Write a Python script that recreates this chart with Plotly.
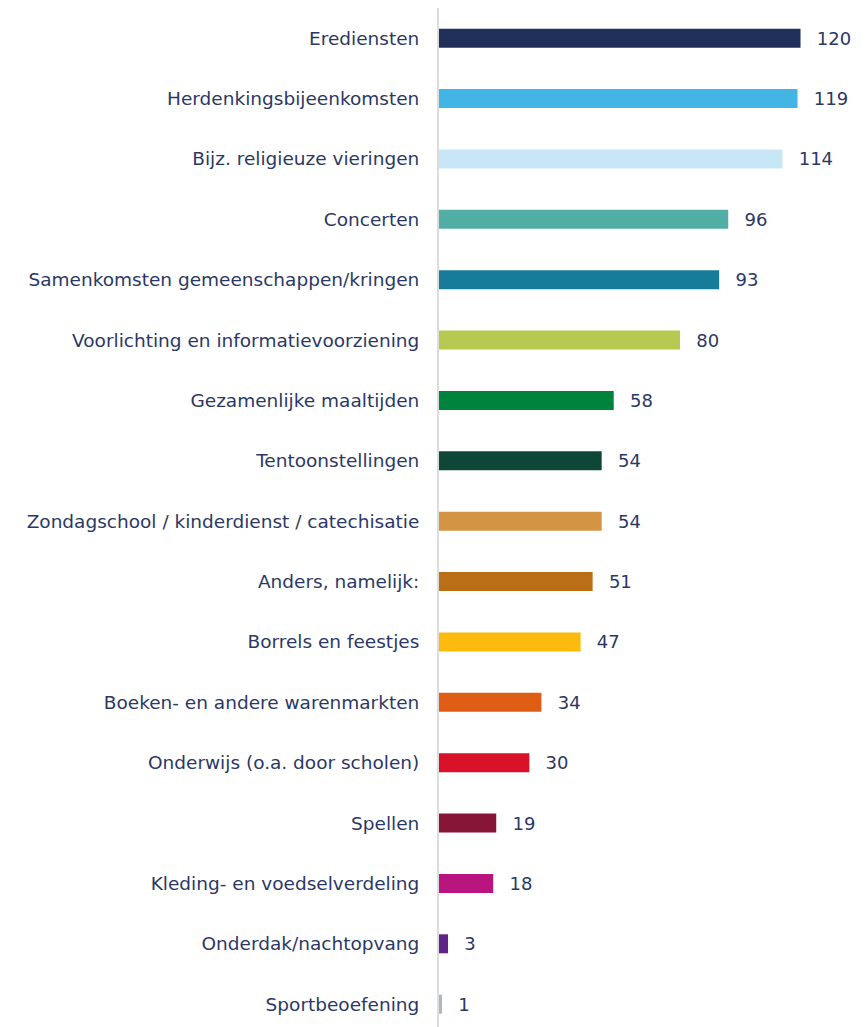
import plotly.graph_objects as go

categories = [
    "Erediensten",
    "Herdenkingsbijeenkomsten",
    "Bijz. religieuze vieringen",
    "Concerten",
    "Samenkomsten gemeenschappen/kringen",
    "Voorlichting en informatievoorziening",
    "Gezamenlijke maaltijden",
    "Tentoonstellingen",
    "Zondagschool / kinderdienst / catechisatie",
    "Anders, namelijk:",
    "Borrels en feestjes",
    "Boeken- en andere warenmarkten",
    "Onderwijs (o.a. door scholen)",
    "Spellen",
    "Kleding- en voedselverdeling",
    "Onderdak/nachtopvang",
    "Sportbeoefening",
]
values = [120, 119, 114, 96, 93, 80, 58, 54, 54, 51, 47, 34, 30, 19, 18, 3, 1]
colors = [
    "#21305A", "#42B5E5", "#C7E7F7", "#52ADA5", "#177C9A", "#B8C952",
    "#00843D", "#0E4638", "#D39543", "#BA6F17", "#FBBA0C", "#DE5C13",
    "#DA1229", "#871538", "#B8157F", "#5E2587", "#B0B7BF",
]

text_color = "#2B3866"
font_family = "DejaVu Sans, Verdana, sans-serif"

fig = go.Figure(
    go.Bar(
        x=values,
        y=categories,
        orientation="h",
        marker=dict(color=colors, line=dict(width=0)),
        width=0.315,
        text=["\u00a0\u00a0\u200a" + str(v) for v in values],
        textposition="outside",
        constraintext="none",
        textfont=dict(size=18, color=text_color, family=font_family),
        cliponaxis=False,
        hoverinfo="skip",
    )
)

n = len(categories)
fig.update_layout(
    width=860,
    height=1019,
    margin=dict(l=431, r=0, t=0, b=0),
    paper_bgcolor="white",
    plot_bgcolor="white",
    showlegend=False,
    font=dict(family=font_family, size=18, color=text_color),
    xaxis=dict(
        range=[0, 142.4],
        showgrid=False,
        zeroline=False,
        showticklabels=False,
        showline=False,
        fixedrange=True,
    ),
    yaxis=dict(
        type="category",
        categoryorder="array",
        categoryarray=categories,
        range=[n - 1 + 0.378, -0.5],
        showgrid=False,
        zeroline=False,
        showline=True,
        linecolor="#DCDCDC",
        linewidth=2,
        ticks="",
        ticklabelstandoff=14,
        tickfont=dict(size=18.5, color=text_color, family=font_family),
        automargin=False,
        fixedrange=True,
    ),
)

fig.write_html("out.html")
